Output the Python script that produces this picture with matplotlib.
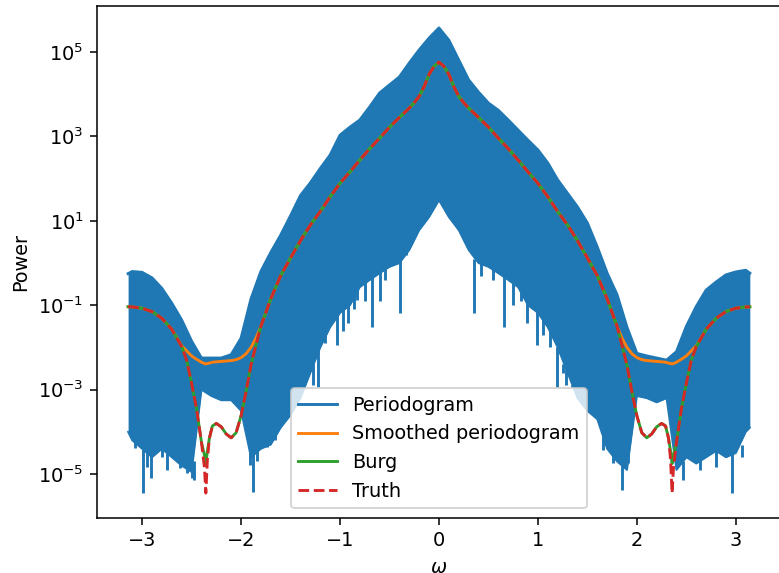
import numpy as np
import matplotlib
matplotlib.use("Agg")
import matplotlib.pyplot as plt
from matplotlib.ticker import NullLocator

# -------------------------
# DATOS (log10 de la potencia)
# -------------------------
# Periodograma: envolvente superior e inferior en una rejilla de 0.1
w_env = [-3.1416, -3.1, -3.0, -2.9, -2.8, -2.7, -2.6, -2.5, -2.4, -2.3, -2.2, -2.1,
         -2.0, -1.9, -1.8, -1.7, -1.6, -1.5, -1.4, -1.3, -1.2, -1.1, -1.0, -0.9,
         -0.8, -0.7, -0.6, -0.5, -0.4, -0.3, -0.2, -0.1, 0.0, 0.1, 0.2, 0.3,
         0.4, 0.5, 0.6, 0.7, 0.8, 0.9, 1.0, 1.1, 1.2, 1.3, 1.4, 1.5,
         1.6, 1.7, 1.8, 1.9, 2.0, 2.1, 2.2, 2.3, 2.4, 2.5, 2.6, 2.7,
         2.8, 2.9, 3.0, 3.1, 3.1416]
pg_top = [-0.25, -0.20, -0.22, -0.35, -0.60, -0.95, -1.35, -1.85, -2.25, -2.25, -2.25, -2.17,
          -1.78, -0.85, -0.20, 0.25, 0.66, 1.12, 1.60, 1.90, 2.24, 2.56, 3.03, 3.22,
          3.39, 3.70, 4.03, 4.22, 4.41, 4.74, 5.05, 5.33, 5.57, 5.28, 4.81, 4.34,
          4.05, 3.79, 3.62, 3.39, 3.15, 2.91, 2.68, 2.37, 1.97, 1.65, 1.33, 0.95,
          0.38, -0.24, -0.75, -1.52, -2.14, -2.20, -2.25, -2.30, -2.10, -1.50, -1.03, -0.64,
          -0.45, -0.28, -0.21, -0.17, -0.24]
pg_bottom = [-4.00, -4.20, -4.40, -4.60, -4.40, -4.60, -4.80, -4.95, -3.00, -3.15, -3.25, -3.25,
             -3.50, -4.60, -4.40, -4.30, -3.90, -3.60, -3.20, -2.60, -2.00, -1.52, -1.18, -1.00,
             -0.57, -0.40, -0.24, -0.09, 0.00, 0.31, 0.78, 1.09, 1.49, 1.09, 0.78, 0.31,
             0.00, -0.09, -0.24, -0.40, -0.57, -1.00, -1.18, -1.52, -2.00, -2.60, -3.20, -3.50,
             -3.70, -4.40, -4.70, -4.90, -3.15, -3.20, -3.30, -3.20, -4.90, -4.60, -4.75, -4.60,
             -4.45, -4.60, -4.50, -4.00, -3.90]

# picos hacia abajo del periodograma
spike_w = [-3.07, -2.99, -2.95, -2.91, -2.80, -2.75, -2.67, -2.62, -2.55, -2.50, -2.48,
           -1.91, -1.88, -1.84, -1.74, -1.66, -1.59, -1.27, -1.22, -1.15, -1.10, -1.03,
           -0.97, -0.92, -0.86, -0.83, -0.75, -0.68, -0.60, -0.55, -0.47, -0.39, -0.33,
           -0.27, -0.20, 0.20, 0.27, 0.35, 0.42, 0.55, 0.66, 0.75, 0.83, 0.89, 0.99,
           1.05, 1.12, 1.19, 1.25, 1.28, 1.34, 1.40, 1.58, 1.66, 1.76, 1.85, 1.91,
           2.47, 2.64, 2.80, 2.965, 3.06, 3.12]
spike_lo = [-4.38, -5.45, -4.83, -5.10, -4.60, -4.90, -4.55, -4.85, -4.98, -5.10, -5.14,
            -4.79, -5.42, -4.70, -4.35, -4.20, -3.60, -2.90, -2.93, -1.90, -1.35, -1.94,
            -1.60, -1.43, -1.10, -0.88, -0.90, -1.51, -0.90, -0.40, 0.07, -1.19, 0.20,
            0.50, 0.90, 0.90, 0.50, -1.19, -0.30, -0.40, -1.51, -1.00, -0.90, -1.43, -1.94,
            -1.70, -2.00, -2.93, -2.60, -2.90, -2.93, -2.95, -3.40, -4.43, -4.74, -5.38, -4.74,
            -5.14, -4.90, -4.83, -5.45, -4.60, -3.90]
spike_hi = [-4.0, -4.2, -4.4, -4.4, -4.2, -4.4, -4.5, -4.6, -4.7, -4.7, -4.7,
            -4.3, -4.3, -4.3, -4.1, -3.8, -3.4, -2.4, -2.0, -1.6, -1.4, -1.1,
            -1.0, -0.9, -0.6, -0.5, -0.4, -0.2, -0.2, -0.1, 0.1, 0.1, 0.4,
            0.6, 1.0, 1.0, 0.6, 0.1, 0.1, -0.1, -0.2, -0.4, -0.6, -0.9, -1.1,
            -1.3, -1.5, -2.0, -2.4, -2.5, -2.9, -3.0, -3.4, -4.0, -4.5, -4.7, -4.5,
            -4.7, -4.6, -4.4, -4.5, -4.3, -3.9]

# curvas suaves (simetricas), mitad positiva
w_half = [0.0, 0.05, 0.1, 0.15, 0.2, 0.25, 0.3, 0.4, 0.5, 0.6, 0.7, 0.8, 0.9, 1.0,
          1.1, 1.2, 1.3, 1.4, 1.5, 1.6, 1.7, 1.8, 1.85, 1.9, 1.95, 2.0, 2.05, 2.1,
          2.15, 2.2, 2.25, 2.29, 2.32, 2.34, 2.356, 2.37, 2.4, 2.45, 2.5, 2.55, 2.6,
          2.7, 2.8, 2.9, 3.0, 3.1, 3.1416]
truth_half = [4.76, 4.66, 4.47, 4.18, 3.95, 3.80, 3.67, 3.45, 3.22, 2.96, 2.71, 2.44, 2.16, 1.89,
              1.57, 1.22, 0.90, 0.53, 0.12, -0.30, -0.85, -1.50, -1.95, -2.42, -3.05, -3.62, -4.02, -4.14,
              -4.05, -3.88, -3.80, -3.86, -4.15, -4.65, -5.45, -4.85, -4.25, -3.45, -2.85, -2.30, -1.98,
              -1.57, -1.31, -1.15, -1.07, -1.04, -1.035]
burg_half = [4.76, 4.66, 4.47, 4.18, 3.95, 3.80, 3.67, 3.45, 3.22, 2.96, 2.71, 2.44, 2.16, 1.89,
             1.57, 1.22, 0.90, 0.53, 0.12, -0.30, -0.85, -1.50, -1.95, -2.42, -3.05, -3.62, -4.02, -4.14,
             -4.05, -3.88, -3.80, -3.86, -4.15, -4.45, -4.75, -4.55, -4.25, -3.45, -2.85, -2.30, -1.98,
             -1.57, -1.31, -1.15, -1.07, -1.04, -1.035]
smooth_half = [4.76, 4.66, 4.47, 4.18, 3.95, 3.80, 3.67, 3.45, 3.22, 2.96, 2.71, 2.44, 2.16, 1.89,
               1.57, 1.22, 0.90, 0.53, 0.12, -0.30, -0.85, -1.50, -1.78, -2.00, -2.15, -2.24, -2.29, -2.31,
               -2.32, -2.33, -2.34, -2.35, -2.37, -2.38, -2.39, -2.38, -2.35, -2.28, -2.20, -2.08, -1.96,
               -1.57, -1.31, -1.15, -1.07, -1.04, -1.035]


def espejo(v, signo=1):
    v = np.asarray(v, dtype=float)
    return np.concatenate([signo * v[:0:-1], v])


w_s = espejo(w_half, -1)
truth = 10 ** espejo(truth_half)
burg = 10 ** espejo(burg_half)
smooth = 10 ** espejo(smooth_half)

# -------------------------
# GRAFICO (figura por defecto vista a ~138 dpi)
# -------------------------
DPI = 138.5
fig = plt.figure(figsize=(779 / DPI, 573 / DPI), dpi=DPI)
ax = fig.add_axes([0.1245, 0.096, 0.878, 0.8935])

azul = "C0"
ax.fill_between(w_env, 10 ** np.array(pg_bottom), 10 ** np.array(pg_top),
                color=azul, linewidth=0)
ax.vlines(spike_w, 10 ** np.array(spike_lo), 10 ** np.array(spike_hi),
          color=azul, linewidth=1.5)
ax.plot(w_env, 10 ** np.array(pg_top), color=azul, linewidth=1.5, label="Periodogram")
ax.plot(w_env, 10 ** np.array(pg_bottom), color=azul, linewidth=1.0)

ax.plot(w_s, smooth, color="C1", linewidth=1.5, label="Smoothed periodogram")
ax.plot(w_s, burg, color="C2", linewidth=1.5, label="Burg")
ax.plot(w_s, truth, color="C3", linestyle="--", linewidth=1.5, label="Truth")

ax.set_yscale("log")
ax.set_xlim(-3.456, 3.456)
ax.set_ylim(10 ** -6.04, 10 ** 6.09)
ax.yaxis.set_minor_locator(NullLocator())
ax.set_xlabel(r"$\omega$")
ax.set_ylabel("Power")
ax.legend(loc="lower center")

fig.savefig("out.png", dpi=DPI)
